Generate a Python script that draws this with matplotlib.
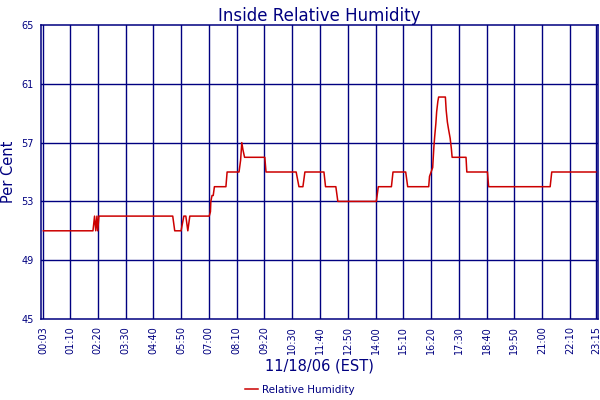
import matplotlib
matplotlib.use('Agg')
import matplotlib.pyplot as plt

NAVY = '#000080'
RED = '#CC0000'

# humidity trace: (time, percent) breakpoints
times = ['00:03', '02:08', '02:12', '02:15', '02:18', '02:20', '02:23',
         '05:29', '05:34', '05:50', '05:57', '06:02', '06:07', '06:12',
         '07:01', '07:04', '07:05', '07:08', '07:11', '07:14', '07:43', '07:46',
         '08:16', '08:20', '08:23', '08:26', '08:30', '09:21', '09:24',
         '10:40', '10:47', '10:57', '11:02', '11:50', '11:54', '12:20', '12:25',
         '14:02', '14:07', '14:40', '14:44', '15:16', '15:21',
         '16:14', '16:16', '16:20', '16:24', '16:27', '16:29', '16:32', '16:34',
         '16:37', '16:39', '16:56', '16:58', '17:01', '17:04', '17:08', '17:11',
         '17:13', '17:48', '17:50', '18:42', '18:45', '21:20', '21:24', '23:15']
humidity = [51, 51, 52, 51, 52, 51, 52,
            52, 51, 51, 52, 52, 51, 52,
            52, 52.3, 53, 53.4, 53.4, 54, 54, 55,
            55, 55.8, 57, 56.5, 56, 56, 55,
            55, 54, 54, 55, 55, 54, 54, 53,
            53, 54, 54, 55, 55, 54,
            54, 54.7, 55, 55.3, 56.7, 57.4, 58.3, 59.1,
            59.8, 60.1, 60.1, 59.2, 58.4, 57.9, 57.3, 56.6,
            56, 56, 55, 55, 54, 54, 55, 55]

tick_labels = ['00:03', '01:10', '02:20', '03:30', '04:40', '05:50', '07:00',
               '08:10', '09:20', '10:30', '11:40', '12:50', '14:00', '15:10',
               '16:20', '17:30', '18:40', '19:50', '21:00', '22:10', '23:15']
y_ticks = [45, 49, 53, 57, 61, 65]


def to_min(s):
    h, m = s.split(':')
    return int(h) * 60 + int(m)


x = [to_min(t) for t in times]
xt = [to_min(t) for t in tick_labels]

plt.rcParams['font.family'] = 'DejaVu Sans'

fig = plt.figure(figsize=(6, 4), dpi=100)
ax = fig.add_axes([0.0683, 0.2025, 0.928, 0.735])

ax.set_xlim(-3, 1400)
ax.set_ylim(45, 65)
for v in xt:
    ax.axvline(v, color=NAVY, lw=1.0, zorder=1)
for v in y_ticks[1:-1]:
    ax.axhline(v, color=NAVY, lw=1.0, zorder=1)

ax.plot(x, humidity, color=RED, lw=1.1, zorder=3, label='Relative Humidity')

ax.set_xticks(xt)
ax.set_xticklabels(tick_labels, rotation=90, fontsize=7, color=NAVY)
ax.set_yticks(y_ticks)
ax.set_yticklabels([str(v) for v in y_ticks], fontsize=7, color=NAVY)
ax.tick_params(length=0, pad=5)
for sp in ax.spines.values():
    sp.set_color(NAVY)
    sp.set_linewidth(1.1)

ax.set_title('Inside Relative Humidity', fontsize=12, color=NAVY, pad=3)
ax.set_ylabel('Per Cent', fontsize=10.5, color=NAVY, labelpad=4)
ax.set_xlabel('11/18/06 (EST)', fontsize=10.5, color=NAVY, labelpad=3)

leg = fig.legend(loc='lower center', bbox_to_anchor=(0.5, -0.01), frameon=False,
                 fontsize=7.5, handlelength=1.2, handletextpad=0.4)
for t in leg.get_texts():
    t.set_color(NAVY)

fig.savefig('out.png', dpi=100)
